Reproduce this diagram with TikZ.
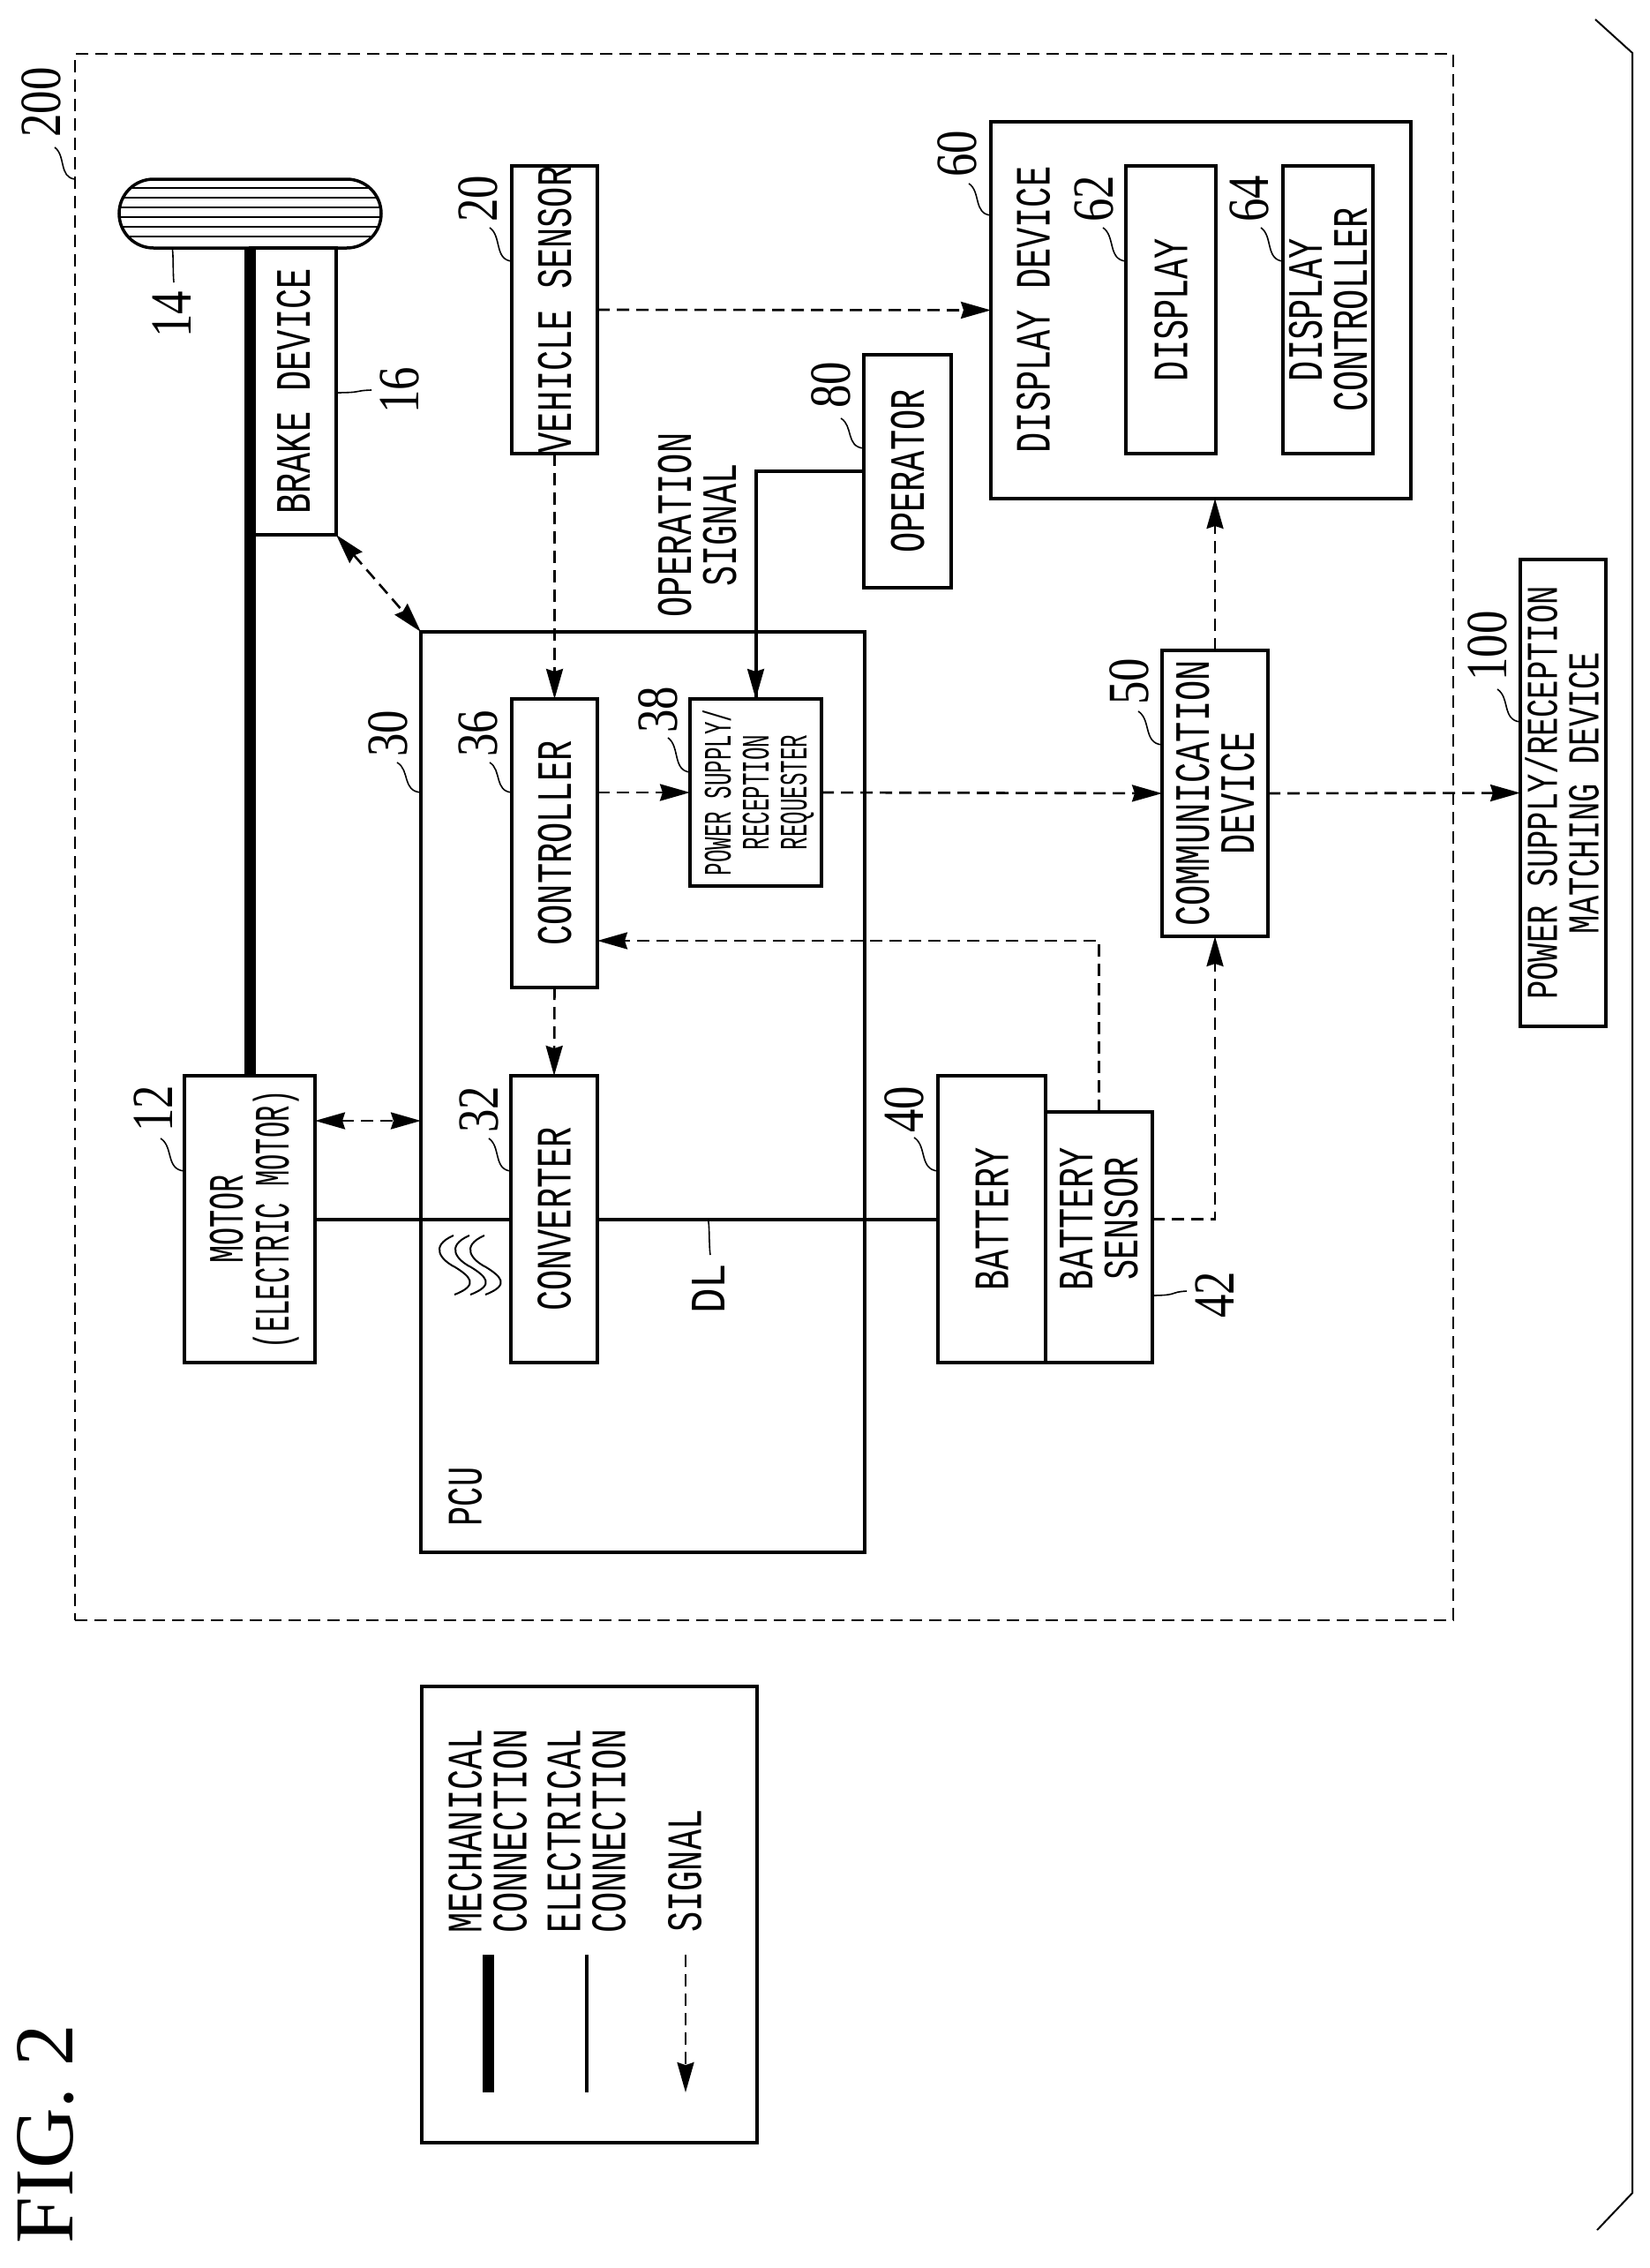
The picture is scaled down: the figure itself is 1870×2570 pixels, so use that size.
\documentclass[tikz,border=0pt]{standalone}
\usepackage{fontspec}
\usetikzlibrary{arrows.meta}
\newfontfamily\pmono{Liberation Mono}
\newfontfamily\pserif{Liberation Serif}
\newlength\capH
\newlength\lineH
\newcommand\Lin[2]{\raisebox{0pt}[\dimexpr(\capH+\lineH)/2\relax][\dimexpr(\lineH-\capH)/2\relax]{\scalebox{#1}[1]{#2}}}
\newcommand\Rot[4]{\rotatebox{90}{\pmono\fontsize{#1pt}{#1pt}\selectfont\setlength\capH{#2pt}\setlength\lineH{#3pt}\def\arraystretch{0}\begin{tabular}{@{}c@{}}#4\end{tabular}}}
\newcommand\BT[1]{\Rot{56}{37}{51}{#1}}
\newcommand\Num[1]{\rotatebox{90}{\pserif\fontsize{66pt}{66pt}\selectfont\scalebox{.8}[1]{#1}}}
\newcommand\Bx[6]{\node[boxn,minimum width={(#4-#2)*1pt},minimum height={(#5-#3)*1pt}] (#1) at ({(#2+#4)/2},{(#3+#5)/2}) {#6};}
\newcommand\Ld[4]{\draw[lead] (#1,#2) .. controls ({#1+.55*(#3-#1)},{#2+.25*(#4-#2)}) and ({#1+.2*(#3-#1)},{#2+.95*(#4-#2)}) .. (#3,#4);}
\newcommand\Wv[1]{\draw[lead,line width=2pt] ({#1},1400) .. controls ({#1-28},1412) and ({#1-14},1428) .. ({#1+2},1436) .. controls ({#1+18},1446) and ({#1+30},1456) .. ({#1+1},1467);}
\tikzset{
  x=1pt,y=-1pt,
  boxn/.style={draw=black,line width=3.5pt,inner sep=0pt,outer sep=0pt,fill=none},
  txt/.style={inner sep=0pt,outer sep=0pt},
  sig/.style={draw=black,line width=2.6pt,dash pattern=on 14pt off 8pt},
  tipend/.style={-{Stealth[length=34pt,width=19pt,inset=3pt]}},
  tipboth/.style={{Stealth[length=34pt,width=19pt,inset=3pt]}-{Stealth[length=34pt,width=19pt,inset=3pt]}},
  elec/.style={draw=black,line width=4pt},
  mech/.style={draw=black,line width=13pt},
  lead/.style={draw=black,line width=1.6pt},
  hatch/.style={draw=black,line width=1.6pt},
}
\begin{document}
\begin{tikzpicture}
\useasboundingbox[fill=white] (0,0) rectangle (1870,2570);
% outer frame and brace
\node[draw=black,line width=2.6pt,dash pattern=on 14pt off 8pt,inner sep=0pt,outer sep=0pt,minimum width=1562pt,minimum height=1775pt] (frame) at (866,948.5) {};
\coordinate (ba) at (1808,22);
\coordinate (bb) at (1850,60);
\coordinate (bc) at (1850,2485);
\coordinate (bd) at (1810,2527);
\draw[draw=black,line width=2pt] (ba) -- (bb) -- (bc) -- (bd);
% wheel
\node[draw=black,line width=3.5pt,rounded corners=39pt,inner sep=0pt,outer sep=0pt,minimum width=297pt,minimum height=78pt] (wheel) at (283.5,242) {};
\draw[hatch] (148,213) -- (419,213);
\draw[hatch] (139,224) -- (428,224);
\draw[hatch] (136,235) -- (431,235);
\draw[hatch] (135,246) -- (432,246);
\draw[hatch] (138,257) -- (429,257);
\draw[hatch] (145,268) -- (422,268);
% boxes
\Bx{pcu}{477}{716}{980}{1759}{}
\Bx{motor}{209}{1219}{357}{1544}{\Rot{56}{36}{52}{\Lin{.6}{MOTOR}\\\Lin{.545}{(ELECTRIC MOTOR)}}}
\draw[mech] (motor.north) -- (motor.north |- wheel.south);
\Bx{brake}{284}{281}{381}{606}{\BT{\Lin{.69}{BRAKE DEVICE}}}
\Bx{vs}{580}{188}{677}{514}{\BT{\Lin{.69}{VEHICLE SENSOR}}}
\Bx{ctrl}{580}{792}{677}{1119}{\BT{\Lin{.69}{CONTROLLER}}}
\Bx{req}{782}{792}{931}{1004}{\Rot{44}{29}{43}{\Lin{.55}{POWER SUPPLY/}\\\Lin{.55}{RECEPTION}\\\Lin{.55}{REQUESTER}}}
\Bx{conv}{579}{1219}{677}{1544}{\BT{\Lin{.69}{CONVERTER}}}
\Bx{op}{979}{402}{1078}{666}{\BT{\Lin{.69}{OPERATOR}}}
\Bx{dd}{1123}{138}{1599}{565}{}
\node[txt] (ddt) at (1171,351) {\BT{\Lin{.69}{DISPLAY DEVICE}}};
\Bx{disp}{1276}{188}{1378}{514}{\BT{\Lin{.69}{DISPLAY}}}
\Bx{dc}{1454}{188}{1556}{514}{\BT{\Lin{.69}{DISPLAY}\\\Lin{.69}{CONTROLLER}}}
\Bx{comm}{1317}{737}{1437}{1061}{\BT{\Lin{.69}{COMMUNICATION}\\\Lin{.69}{DEVICE}}}
\Bx{match}{1723}{634}{1820}{1163}{\Rot{50}{33}{47}{\Lin{.71}{POWER SUPPLY/RECEPTION}\\\Lin{.71}{MATCHING DEVICE}}}
\Bx{batt}{1063}{1219}{1185}{1544}{\BT{\Lin{.69}{BATTERY}}}
\Bx{bs}{1185}{1260}{1306}{1544}{}
\node[txt] (bst) at (1245,1381) {\BT{\Lin{.69}{BATTERY}\\\Lin{.69}{SENSOR}}};
% other texts
\node[txt] (opsig) at (790,595) {\BT{\Lin{.69}{OPERATION}\\\Lin{.69}{SIGNAL}}};
\node[txt] (pcut) at (527,1696) {\BT{\Lin{.66}{PCU}}};
\node[txt] (dlt) at (803,1460) {\BT{\Lin{.85}{DL}}};
% electrical
\draw[elec] (motor.east) -- (conv.west);
\draw[elec] (conv.east) -- (batt.west);
\draw[elec] (op.west) -| (req.north);
\draw[draw=black,line width=2.6pt,-{Stealth[length=34pt,width=19pt,inset=3pt]}] (op.west -| req.north) -- (req.north);
% signals
\coordinate (mp) at (0,1270);
\coordinate (cp) at (0,1066);
\draw[sig,tipboth] (motor.east |- mp) -- (pcu.west |- mp);
\draw[sig,tipboth] (brake.south east) -- (pcu.north west);
\draw[sig,tipend] (vs.south) -- (ctrl.north);
\draw[sig,tipend] (vs.east) -- (dd.west);
\draw[sig,tipend] (ctrl.south) -- (conv.north);
\draw[sig,tipend] (ctrl.east |- req.west) -- (req.west);
\draw[sig,tipend] (req.east) -- (comm.west);
\draw[sig,tipend] (comm.east) -- (match.west);
\draw[sig,tipend] (comm.north) -- (comm.north |- dd.south);
\draw[sig,tipend] (bs.north) |- (ctrl.east |- cp);
\draw[sig,tipend] (bs.east |- conv.east) -| (comm.south);
% wave mark
\Wv{514}\Wv{532}\Wv{549}
% numerals
\node[txt] (n200) at (47,116) {\Num{200}};
\node[txt] (n14) at (195,356) {\Num{14}};
\node[txt] (n16) at (453,442) {\Num{16}};
\node[txt] (n20) at (542,225) {\Num{20}};
\node[txt] (n80) at (942,436) {\Num{80}};
\node[txt] (n30) at (440,831) {\Num{30}};
\node[txt] (n36) at (542,831) {\Num{36}};
\node[txt] (n38) at (746,804) {\Num{38}};
\node[txt] (n60) at (1085,174) {\Num{60}};
\node[txt] (n62) at (1240,225) {\Num{62}};
\node[txt] (n64) at (1416,225) {\Num{64}};
\node[txt] (n50) at (1280,772) {\Num{50}};
\node[txt] (n100) at (1686,732) {\Num{100}};
\node[txt] (n12) at (174,1256) {\Num{12}};
\node[txt] (n32) at (543,1257) {\Num{32}};
\node[txt] (n40) at (1025,1257) {\Num{40}};
\node[txt] (n42) at (1377,1467) {\Num{42}};
% leaders
\Ld{62}{167}{85}{203}
\Ld{197}{320}{195}{281}
\Ld{421}{442}{381}{445}
\Ld{555}{258}{580}{296}
\Ld{953}{474}{979}{508}
\Ld{450}{864}{477}{898}
\Ld{555}{864}{580}{898}
\Ld{757}{836}{782}{875}
\Ld{1098}{208}{1123}{244}
\Ld{1250}{258}{1276}{296}
\Ld{1429}{258}{1454}{296}
\Ld{1290}{806}{1317}{844}
\Ld{1697}{781}{1723}{818}
\Ld{182}{1290}{209}{1327}
\Ld{554}{1290}{579}{1327}
\Ld{1036}{1289}{1063}{1327}
\Ld{1345}{1463}{1306}{1468}
\Ld{805}{1422}{802}{1381}
% legend
\node[boxn,line width=4pt,minimum width=380pt,minimum height=517pt] (leg) at (668,2169.5) {};
\node[txt] (l1) at (552.5,2075) {\BT{\Lin{.69}{MECHANICAL}\\\Lin{.69}{CONNECTION}}};
\node[txt] (l2) at (664.5,2075) {\BT{\Lin{.69}{ELECTRICAL}\\\Lin{.69}{CONNECTION}}};
\node[txt] (l3) at (776,2120) {\BT{\Lin{.69}{SIGNAL}}};
\coordinate (ma) at (553,2215);
\coordinate (mb) at (553,2371);
\coordinate (ea) at (665,2215);
\coordinate (eb) at (665,2371);
\coordinate (sa) at (777,2215);
\coordinate (sb) at (777,2371);
\draw[mech] (ma) -- (mb);
\draw[elec] (ea) -- (eb);
\draw[sig,tipend] (sa) -- (sb);
% title
\node[txt] (fig) at (52,2418) {\rotatebox{90}{\pserif\fontsize{95pt}{95pt}\selectfont FIG. 2}};
\end{tikzpicture}
\end{document}
